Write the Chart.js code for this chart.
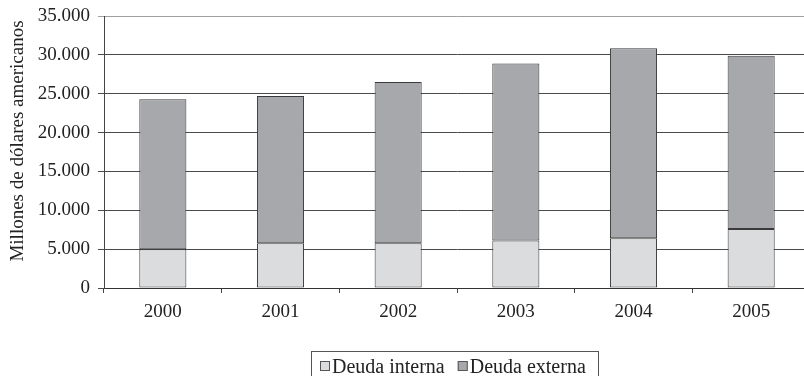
<!DOCTYPE html>
<html>
<head>
<meta charset="utf-8">
<script src="https://cdn.jsdelivr.net/npm/chart.js@4/dist/chart.umd.min.js"></script>
<style>
  html, body { margin: 0; padding: 0; background: #fff; overflow: hidden; }
  #wrap { width: 804px; height: 376px; overflow: hidden; position: relative; }
  canvas { display: block; }
</style>
</head>
<body>
<div id="wrap"><canvas id="c" width="812" height="376"></canvas></div>
<script>
// Deuda pública (millones de dólares americanos)
const years = ['2000', '2001', '2002', '2003', '2004', '2005'];
const deudaInterna = [5000, 5750, 5750, 6100, 6400, 7600];
const deudaExterna = [19300, 18950, 20750, 22800, 24450, 22300];
const yTicks = [0, 5000, 10000, 15000, 20000, 25000, 30000, 35000];
const yTitle = 'Millones de dólares americanos';

const serif = '"Liberation Serif", "DejaVu Serif", serif';
const textColor = '#222';

function fmtMiles(v) {
  return String(v).replace(/\B(?=(\d{3})+(?!\d))/g, '.');
}

// Título vertical del eje Y, un poco por encima del centro del área
const yTitlePlugin = {
  id: 'yTitlePlugin',
  afterDraw(chart) {
    const ctx = chart.ctx;
    const a = chart.chartArea;
    ctx.save();
    ctx.translate(18, (a.top + a.bottom) / 2 - 11);
    ctx.rotate(-Math.PI / 2);
    ctx.font = '19px ' + serif;
    ctx.fillStyle = textColor;
    ctx.textAlign = 'center';
    ctx.textBaseline = 'middle';
    ctx.fillText(yTitle, 0, 0);
    ctx.restore();
  }
};

// Leyenda enmarcada bajo el eje X
const framedLegend = {
  id: 'framedLegend',
  afterDraw(chart) {
    const ctx = chart.ctx;
    const a = chart.chartArea;
    const ds = chart.data.datasets;
    ctx.save();
    ctx.font = '20px ' + serif;
    const box = 10, gapBox = 2, gapItem = 13, padL = 9, padR = 12;
    const widths = ds.map(d => ctx.measureText(d.label).width);
    let total = padL + padR;
    widths.forEach((w, i) => { total += box + gapBox + w + (i ? gapItem : 0); });
    const left = Math.round((a.left + a.right) / 2 - total / 2) - 3;
    const top = 351;
    ctx.strokeStyle = '#555';
    ctx.lineWidth = 1;
    ctx.strokeRect(left + 0.5, top + 0.5, Math.round(total), 40);
    let x = left + padL;
    const cy = 366;
    ds.forEach((d, i) => {
      if (i) x += gapItem;
      ctx.fillStyle = d.backgroundColor;
      ctx.fillRect(x, cy - 5, box, box);
      ctx.strokeStyle = '#555';
      ctx.strokeRect(x + 0.5, cy - 5 + 0.5, box - 1, box - 1);
      x += box + gapBox;
      ctx.fillStyle = textColor;
      ctx.textBaseline = 'alphabetic';
      ctx.fillText(d.label, x, 373);
      x += widths[i];
    });
    ctx.restore();
  }
};

new Chart(document.getElementById('c'), {
  type: 'bar',
  data: {
    labels: years,
    datasets: [
      {
        label: 'Deuda interna',
        data: deudaInterna,
        backgroundColor: '#dbdcde',
        borderColor: '#3a3a3a',
        borderWidth: 1,
        borderSkipped: false,
        categoryPercentage: 1,
        barPercentage: 0.4
      },
      {
        label: 'Deuda externa',
        data: deudaExterna,
        backgroundColor: '#a7a8ac',
        borderColor: '#3a3a3a',
        borderWidth: 1,
        borderSkipped: false,
        categoryPercentage: 1,
        barPercentage: 0.4
      }
    ]
  },
  options: {
    responsive: false,
    animation: false,
    layout: { padding: { top: 16, left: 0, right: 2, bottom: 48 } },
    plugins: {
      tooltip: { enabled: false },
      legend: { display: false }
    },
    scales: {
      x: {
        stacked: true,
        grid: {
          offset: true,
          drawOnChartArea: false,
          drawTicks: true,
          tickLength: 5,
          color: '#444'
        },
        border: { color: '#333', width: 1 },
        ticks: { color: textColor, font: { family: serif, size: 19 }, padding: 8 },
        afterFit(scale) { scale.height = 40; }
      },
      y: {
        stacked: true,
        min: 0,
        max: 35000,
        afterBuildTicks(scale) { scale.ticks = yTicks.map(v => ({ value: v })); },
        grid: {
          color(ctx) { return ctx.tick && ctx.tick.value === 35000 ? '#a0a0a0' : '#4a4a4a'; },
          lineWidth: 1,
          tickLength: 6
        },
        border: { color: '#444', width: 1 },
        ticks: {
          color: textColor,
          font: { family: serif, size: 19 },
          padding: 8,
          callback: v => fmtMiles(v)
        },
        afterFit(scale) {
          scale.width = 104;
          scale.paddingTop = 0;
          scale.paddingBottom = 0;
        }
      }
    }
  },
  plugins: [yTitlePlugin, framedLegend]
});
</script>
</body>
</html>
